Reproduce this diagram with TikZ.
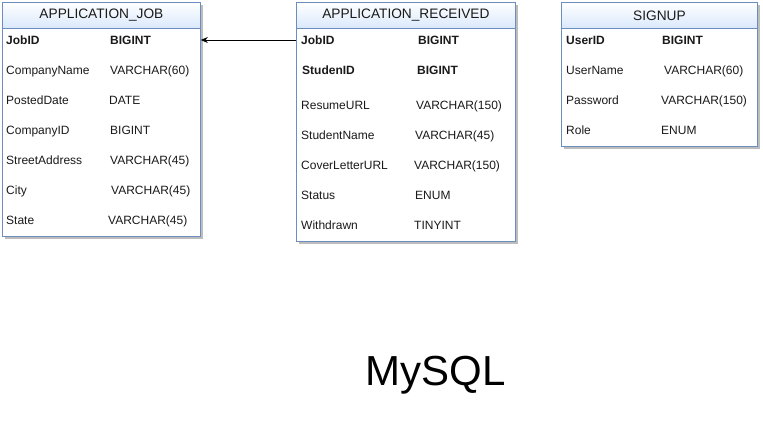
\documentclass[tikz,border=0pt]{standalone}
\usepackage{fontspec}
\setmainfont{Liberation Sans}
\usetikzlibrary{arrows.meta}
\definecolor{hdrblue}{HTML}{DAE8FC}
\definecolor{bordblue}{HTML}{6C8EBF}
\definecolor{shadowgray}{HTML}{BDBDBD}
\definecolor{txt}{HTML}{1A1A1A}
\begin{document}
\begin{tikzpicture}[x=1pt,y=-1pt,
  tablebody/.style={draw=bordblue, fill=white, line width=0.8pt, anchor=north west, inner sep=0pt},
  tablehead/.style={draw=bordblue, top color=white, bottom color=hdrblue, line width=0.8pt, anchor=north west, inner sep=0pt, minimum height=26pt, font=\fontsize{13.7}{16}\selectfont, text=txt},
  shadowbox/.style={fill=shadowgray},
  colname/.style={anchor=west, inner sep=0pt, text height=8.6pt, text depth=0pt, font=\fontsize{12}{14}\selectfont, text=txt},
  pkname/.style={colname, font=\bfseries\fontsize{12}{14}\selectfont},
  link/.style={draw=black, line width=0.8pt, -{Stealth[length=7pt,width=6pt]}}
]
\useasboundingbox (0,0) rectangle (763,431);

% ---------- APPLICATION_JOB ----------
\fill[shadowbox] (5,5) rectangle (203,239);
\node[tablebody, minimum width=198pt, minimum height=234pt] (aj) at (2,2) {};
\node[tablehead, minimum width=198pt] (ajh) at (2,2) {APPLICATION\_JOB};
\node[pkname] (ajc1) at (6,40) {JobID};         \node[pkname] (ajt1) at (110,40) {BIGINT};
\node[colname] (ajc2) at (6,70) {CompanyName};  \node[colname] (ajt2) at (110,70) {VARCHAR(60)};
\node[colname] (ajc3) at (6,100) {PostedDate};  \node[colname] (ajt3) at (109,100) {DATE};
\node[colname] (ajc4) at (6,130) {CompanyID};   \node[colname] (ajt4) at (110,130) {BIGINT};
\node[colname] (ajc5) at (6,160) {StreetAddress}; \node[colname] (ajt5) at (110,160) {VARCHAR(45)};
\node[colname] (ajc6) at (6,190) {City};        \node[colname] (ajt6) at (111,190) {VARCHAR(45)};
\node[colname] (ajc7) at (6,220) {State};       \node[colname] (ajt7) at (108,220) {VARCHAR(45)};

% ---------- APPLICATION_RECEIVED ----------
\fill[shadowbox] (299,5) rectangle (518,244);
\node[tablebody, minimum width=219pt, minimum height=239pt] (ar) at (296,2) {};
\node[tablehead, minimum width=219pt] (arh) at (296,2) {APPLICATION\_RECEIVED};
\node[pkname] (arc1) at (301,40) {JobID};          \node[pkname] (art1) at (418,40) {BIGINT};
\node[pkname] (arc2) at (302,70) {StudenID};       \node[pkname] (art2) at (417,70) {BIGINT};
\node[colname] (arc3) at (301,105) {ResumeURL};    \node[colname] (art3) at (416,105) {VARCHAR(150)};
\node[colname] (arc4) at (301,135) {StudentName};  \node[colname] (art4) at (415,135) {VARCHAR(45)};
\node[colname] (arc5) at (301,165) {CoverLetterURL}; \node[colname] (art5) at (414,165) {VARCHAR(150)};
\node[colname] (arc6) at (301,195) {Status};       \node[colname] (art6) at (415,195) {ENUM};
\node[colname] (arc7) at (301,225) {Withdrawn};    \node[colname] (art7) at (414,225) {TINYINT};

% ---------- SIGNUP ----------
\fill[shadowbox] (564,5) rectangle (760,149);
\node[tablebody, minimum width=196pt, minimum height=144pt] (su) at (561,2) {};
\node[tablehead, minimum width=196pt] (suh) at (561,2) {SIGNUP};
\node[pkname] (suc1) at (566,40) {UserID};     \node[pkname] (sut1) at (662,40) {BIGINT};
\node[colname] (suc2) at (566,70) {UserName};  \node[colname] (sut2) at (664,70) {VARCHAR(60)};
\node[colname] (suc3) at (566,100) {Password}; \node[colname] (sut3) at (661,100) {VARCHAR(150)};
\node[colname] (suc4) at (566,130) {Role};     \node[colname] (sut4) at (661,130) {ENUM};

% ---------- relation ----------
\draw[link] (ar.west |- arc1) -- (aj.east |- arc1);

% ---------- title ----------
\node[anchor=base, inner sep=0pt, font=\fontsize{42}{48}\selectfont] (title) at (435.5,385) {MySQL};
\end{tikzpicture}
\end{document}
